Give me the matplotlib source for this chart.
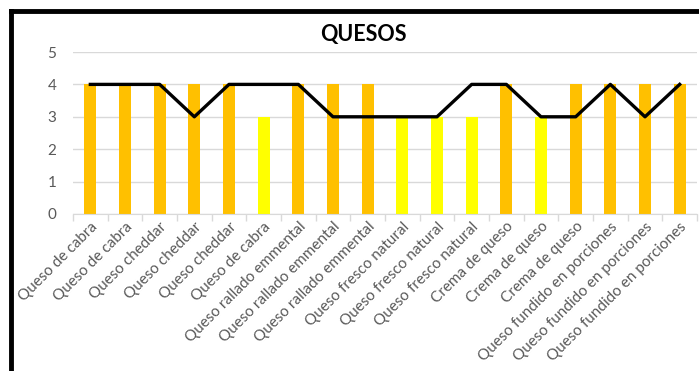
import matplotlib.pyplot as plt
from matplotlib.lines import Line2D

# Datos
categorias = ["Queso de cabra", "Queso de cabra", "Queso cheddar", "Queso cheddar",
              "Queso cheddar", "Queso de cabra", "Queso rallado emmental",
              "Queso rallado emmental", "Queso rallado emmental", "Queso fresco natural",
              "Queso fresco natural", "Queso fresco natural", "Crema de queso",
              "Crema de queso", "Crema de queso", "Queso fundido en porciones",
              "Queso fundido en porciones", "Queso fundido en porciones"]
barras = [4, 4, 4, 4, 4, 3, 4, 4, 4, 3, 3, 3, 4, 3, 4, 4, 4, 4]
linea = [4, 4, 4, 3, 4, 4, 4, 3, 3, 3, 3, 4, 4, 3, 3, 4, 3, 4]
colores = ["#FFC000" if v == 4 else "#FFFF00" for v in barras]

plt.rcParams['font.family'] = ['Lato', 'DejaVu Sans']

fig = plt.figure(figsize=(6.99, 3.71), dpi=100)
ax = fig.add_axes([73 / 699, 1 - 214 / 371, 624 / 699, 162 / 371])

x = list(range(len(categorias)))
ax.bar(x, barras, width=0.35, color=colores, zorder=2)
ax.plot(x, linea, color="black", linewidth=2.4, zorder=3)

ax.set_xlim(-0.5, len(categorias) - 0.5)
ax.set_ylim(0, 5)
ax.set_yticks(range(6))
ax.grid(axis="y", color="#D9D9D9", linewidth=1, zorder=0)

ax.set_xticks(x)
ax.set_xticklabels(categorias, rotation=45, ha="right", rotation_mode="anchor",
                   fontsize=11, color="#595959")
ax.set_xticks([i - 0.5 for i in range(len(categorias) + 1)], minor=True)
ax.tick_params(axis="x", which="major", length=0, pad=4)
ax.tick_params(axis="x", which="minor", length=5, color="#D9D9D9", width=1)
ax.tick_params(axis="y", length=0, labelsize=11, labelcolor="#595959", pad=12)

for s in ["top", "right", "left"]:
    ax.spines[s].set_visible(False)
ax.spines["bottom"].set_color("#D9D9D9")

fig.text(363 / 699, 1 - 34 / 371, "QUESOS", ha="center", va="center",
         fontsize=15.5, fontweight="bold", color="black")

# Borde negro del gráfico
fig.add_artist(Line2D([11 / 699, 11 / 699], [0, 1 - 11 / 371], color="black",
                      linewidth=3.5, transform=fig.transFigure))
fig.add_artist(Line2D([11 / 699, 1], [1 - 11 / 371, 1 - 11 / 371], color="black",
                      linewidth=3.5, transform=fig.transFigure))

plt.savefig("out.png", dpi=100)
